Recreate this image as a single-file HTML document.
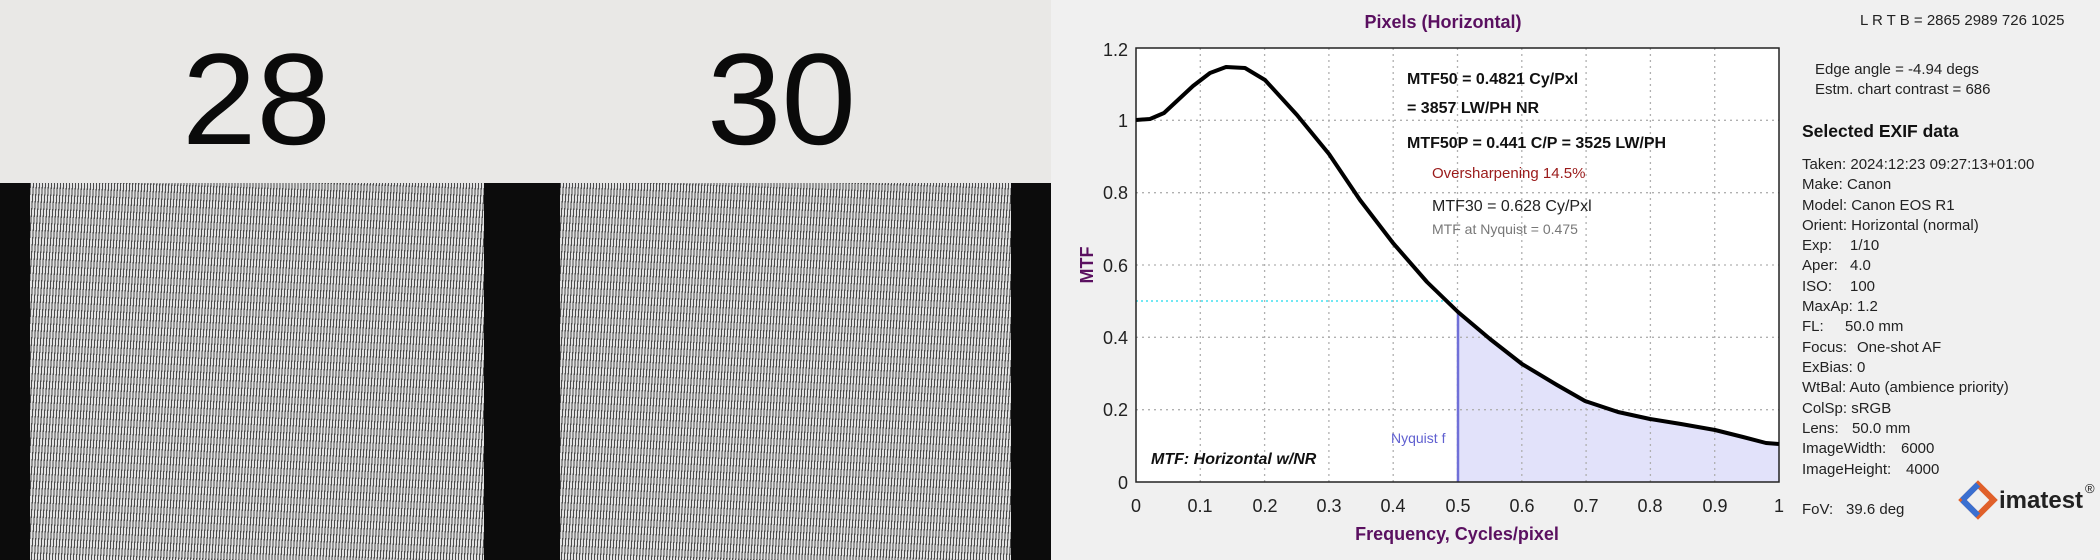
<!DOCTYPE html>
<html><head><meta charset="utf-8"><style>
html,body{margin:0;padding:0}
body{width:2100px;height:560px;overflow:hidden;background:#f0f0f0;position:relative;font-family:"Liberation Sans",sans-serif}
.abs{position:absolute;white-space:nowrap}
.pat{position:absolute;top:183px;height:377px;background:repeating-linear-gradient(94deg,#4a4a4a 0 1.1px,#e2e2e2 1.1px 3px)}
</style></head><body>
<div class="abs" style="left:0;top:0;width:1051px;height:183px;background:#e9e8e6"></div>
<div class="abs" style="left:0;top:183px;width:1051px;height:377px;background:#0c0c0c"></div>
<div class="pat" style="left:30px;width:454px"></div>
<div class="pat" style="left:560px;width:451px"></div>
<div class="abs" style="left:182px;top:34px;font-size:130px;line-height:130px;color:#0a0a0a;transform:scaleX(1.03);transform-origin:left">28</div>
<div class="abs" style="left:707px;top:34px;font-size:130px;line-height:130px;color:#0a0a0a;transform:scaleX(1.03);transform-origin:left">30</div>

<svg class="abs" style="left:0;top:0" width="2100" height="560" font-family="Liberation Sans, sans-serif">
<rect x="1136" y="48" width="643" height="434" fill="#fff"/>
<path d="M1458,312 L1490,339 L1522,364 L1557,385 L1585,401 L1618,412 L1650,419 L1681,424 L1715,430 L1743,437 L1766,443 L1779,444 L1779,482 L1458,482 Z" fill="#e2e2fa"/>
<g stroke="#b0b0b0" stroke-width="1.3" stroke-dasharray="2,4">
<line x1="1200.3" y1="48" x2="1200.3" y2="482"/><line x1="1264.6" y1="48" x2="1264.6" y2="482"/><line x1="1328.9" y1="48" x2="1328.9" y2="482"/><line x1="1393.2" y1="48" x2="1393.2" y2="482"/><line x1="1457.5" y1="48" x2="1457.5" y2="482"/><line x1="1521.8" y1="48" x2="1521.8" y2="482"/><line x1="1586.1" y1="48" x2="1586.1" y2="482"/><line x1="1650.4" y1="48" x2="1650.4" y2="482"/><line x1="1714.7" y1="48" x2="1714.7" y2="482"/>
<line x1="1136" y1="120.3" x2="1779" y2="120.3"/><line x1="1136" y1="192.7" x2="1779" y2="192.7"/><line x1="1136" y1="265" x2="1779" y2="265"/><line x1="1136" y1="337.3" x2="1779" y2="337.3"/><line x1="1136" y1="409.7" x2="1779" y2="409.7"/>
</g>
<line x1="1136" y1="301" x2="1458" y2="301" stroke="#40e0f0" stroke-width="1.5" stroke-dasharray="2,3"/>
<line x1="1458" y1="312" x2="1458" y2="482" stroke="#7070d8" stroke-width="2.5"/>
<rect x="1136" y="48" width="643" height="434" fill="none" stroke="#222" stroke-width="1.5"/>
<polyline fill="none" stroke="#000" stroke-width="4" stroke-linejoin="round" points="1136,120 1150,119 1164,113 1193,86 1210,73 1226,67 1245,68 1265,80 1297,115 1329,154 1360,200 1393,243 1427,282 1458,312 1490,339 1522,364 1557,385 1585,401 1618,412 1650,419 1681,424 1715,430 1743,437 1766,443 1779,444"/>
<g font-size="18" fill="#222" text-anchor="end">
<text x="1128" y="56">1.2</text><text x="1128" y="127">1</text><text x="1128" y="199">0.8</text><text x="1128" y="272">0.6</text><text x="1128" y="344">0.4</text><text x="1128" y="416">0.2</text><text x="1128" y="489">0</text>
</g>
<g font-size="18" fill="#222" text-anchor="middle">
<text x="1136" y="512">0</text><text x="1200" y="512">0.1</text><text x="1265" y="512">0.2</text><text x="1329" y="512">0.3</text><text x="1393" y="512">0.4</text><text x="1458" y="512">0.5</text><text x="1522" y="512">0.6</text><text x="1586" y="512">0.7</text><text x="1650" y="512">0.8</text><text x="1715" y="512">0.9</text><text x="1779" y="512">1</text>
</g>
<text x="1443" y="28" font-size="18" font-weight="bold" fill="#5a1060" text-anchor="middle">Pixels (Horizontal)</text>
<text x="1457" y="540" font-size="18" font-weight="bold" fill="#5a1060" text-anchor="middle">Frequency, Cycles/pixel</text>
<text transform="translate(1093,265) rotate(-90)" font-size="18" font-weight="bold" fill="#5a1060" text-anchor="middle">MTF</text>
<g font-size="16" font-weight="bold" fill="#111">
<text x="1407" y="84">MTF50 = 0.4821 Cy/Pxl</text>
<text x="1407" y="113">= 3857 LW/PH  NR</text>
<text x="1407" y="148">MTF50P = 0.441 C/P = 3525 LW/PH</text>
</g>
<text x="1432" y="178" font-size="15" fill="#9a1a1a">Oversharpening 14.5%</text>
<text x="1432" y="211" font-size="16" fill="#222">MTF30 = 0.628 Cy/Pxl</text>
<text x="1432" y="234" font-size="14" fill="#777">MTF at Nyquist = 0.475</text>
<text x="1391" y="443" font-size="14" fill="#6060d0">Nyquist f</text>
<text x="1151" y="464" font-size="16" font-weight="bold" font-style="italic" fill="#111">MTF: Horizontal w/NR</text>
<g font-size="15" fill="#222">
<text x="1860" y="25">L R  T B = 2865 2989  726 1025</text>
<text x="1815" y="74">Edge angle = -4.94 degs</text>
<text x="1815" y="94">Estm. chart contrast = 686</text>
</g>
<text x="1802" y="137" font-size="17.5" font-weight="bold" fill="#111">Selected EXIF data</text>
<g font-size="15" fill="#222">
<text x="1802" y="169">Taken: 2024:12:23 09:27:13+01:00</text>
<text x="1802" y="189">Make:  Canon</text>
<text x="1802" y="210">Model:  Canon EOS R1</text>
<text x="1802" y="230">Orient: Horizontal (normal)</text>
<text x="1802" y="250">Exp:<tspan x="1850">1/10</tspan></text>
<text x="1802" y="270">Aper:<tspan x="1850">4.0</tspan></text>
<text x="1802" y="291">ISO:<tspan x="1850">100</tspan></text>
<text x="1802" y="311">MaxAp: 1.2</text>
<text x="1802" y="331">FL:<tspan x="1845">50.0 mm</tspan></text>
<text x="1802" y="352">Focus:<tspan x="1857">One-shot AF</tspan></text>
<text x="1802" y="372">ExBias: 0</text>
<text x="1802" y="392">WtBal: Auto (ambience priority)</text>
<text x="1802" y="413">ColSp: sRGB</text>
<text x="1802" y="433">Lens:<tspan x="1852">50.0 mm</tspan></text>
<text x="1802" y="453">ImageWidth:<tspan x="1901">6000</tspan></text>
<text x="1802" y="474">ImageHeight:<tspan x="1906">4000</tspan></text>
<text x="1802" y="514">FoV:<tspan x="1846">39.6 deg</tspan></text>
</g>
<g transform="translate(1978,500) rotate(45)">
<rect x="-11" y="-11" width="22" height="22" fill="none" stroke="#e0602a" stroke-width="6"/>
<path d="M-11,11 L-11,-11" stroke="#3a6fd0" stroke-width="6"/>
<path d="M11,11 L-11,11" stroke="#3a6fd0" stroke-width="6"/>
</g>
<text x="1999" y="508" font-size="24" font-weight="bold" fill="#222">imatest</text>
<text x="2085" y="493" font-size="13" fill="#222">®</text>
</svg>
</body></html>
